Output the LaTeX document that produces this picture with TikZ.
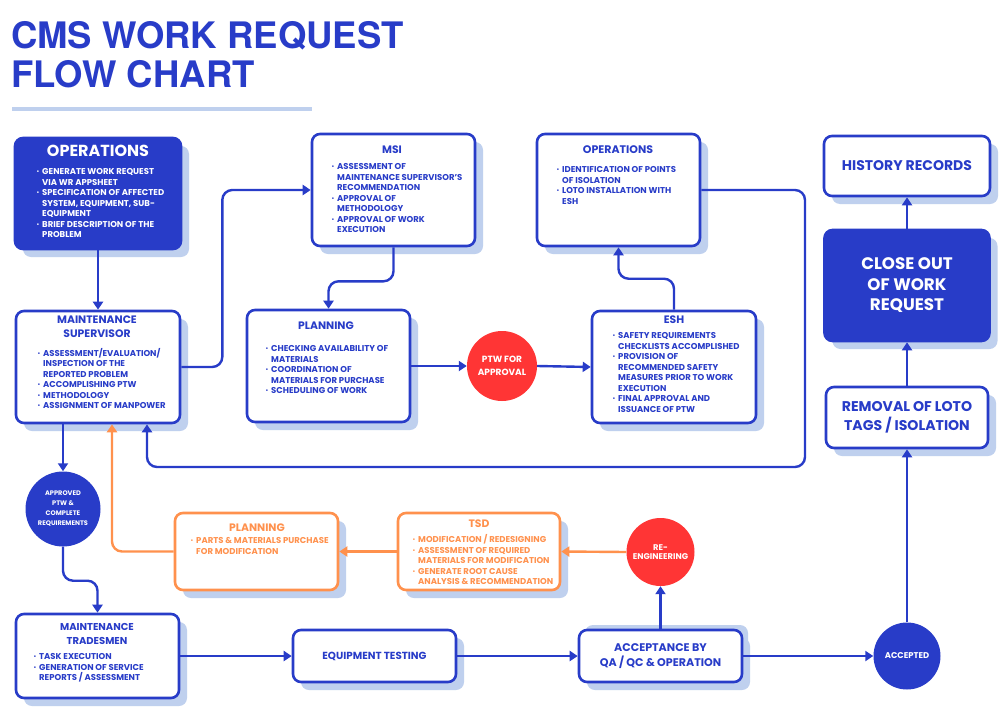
\documentclass[tikz,border=0pt]{standalone}
\usepackage{fontspec}
\setmainfont{Poppins}
\newfontfamily\titlefont{TeX Gyre Heros}
\usetikzlibrary{arrows.meta,shadows}
\definecolor{cblue}{HTML}{283CC8}
\definecolor{cshadow}{HTML}{BFD0EE}
\definecolor{cred}{HTML}{FF3535}
\definecolor{corange}{HTML}{FF914D}
\newcommand\bu{\makebox[5.5pt][l]{\raisebox{0.8pt}{\fontsize{5.5}{5.5}\selectfont\textbullet}}}
\newcommand\ii{\hspace*{5.5pt}}
\newcommand\fs[2]{\fontsize{#1}{#2}\selectfont\bfseries}
\tikzset{
  box/.style={draw=cblue, line width=2.6pt, rounded corners=8pt, fill=white, inner sep=0pt,
    general shadow={fill=cshadow, shadow xshift=8pt, shadow yshift=-8pt}},
  obox/.style={box, draw=corange},
  hd/.style={text=cblue, align=center, inner sep=0pt, font=\fs{10.8}{14}},
  bl/.style={text=cblue, align=left, anchor=north west, inner sep=0pt, font=\fs{8.5}{10.5}},
  circ/.style={circle, inner sep=0pt, text=white, align=center},
  conn/.style={draw=cblue, line width=2.4pt, rounded corners=10pt, -{Triangle[width=10pt,length=8pt]}},
  oconn/.style={conn, draw=corange},
}
\begin{document}
\begin{tikzpicture}[x=1pt,y=-1pt]
\useasboundingbox (0,0) rectangle (1007,715);
\fill[white] (0,0) rectangle (1007,715);

% title
\node[anchor=base west, inner sep=0pt, text=cblue, font=\titlefont\bfseries\fontsize{36.5}{40}\selectfont] (t1) at (11,48) {CMS WORK REQUEST};
\node[anchor=base west, inner sep=0pt, text=cblue, font=\titlefont\bfseries\fontsize{36.5}{40}\selectfont] (t2) at (11,87) {FLOW CHART};
\draw[cshadow, line width=4pt] (12,108.5) -- (312,108.5);

% boxes
\node[box, fill=cblue, minimum width=166pt, minimum height=111pt] (ops1) at (98,193.5) {};
\node[hd, text=white, font=\fs{16}{18}] (ops1h) at (98,151) {OPERATIONS};
\node[bl, text=white] (ops1b) at (36.5,168.5) {\bu GENERATE WORK REQUEST\\ \ii VIA WR APPSHEET\\ \bu SPECIFICATION OF AFFECTED\\ \ii SYSTEM, EQUIPMENT, SUB-\\ \ii EQUIPMENT\\ \bu BRIEF DESCRIPTION OF THE\\ \ii PROBLEM};

\node[box, minimum width=163pt, minimum height=112pt] (msi) at (393.5,190) {};
\node[hd] (msih) at (392,150) {MSI};
\node[bl] (msib) at (331.5,163.5) {\bu ASSESSMENT OF\\ \ii MAINTENANCE SUPERVISOR'S\\ \ii RECOMMENDATION\\ \bu APPROVAL OF\\ \ii METHODOLOGY\\ \bu APPROVAL OF WORK\\ \ii EXECUTION};

\node[box, minimum width=163pt, minimum height=112pt] (ops2) at (618.5,190) {};
\node[hd, font=\fs{11}{14}] (ops2h) at (618,150) {OPERATIONS};
\node[bl] (ops2b) at (556.5,166.5) {\bu IDENTIFICATION OF POINTS\\ \ii OF ISOLATION\\ \bu LOTO INSTALLATION WITH\\ \ii ESH};

\node[box, minimum width=166pt, minimum height=60pt, text=cblue, font=\fs{14}{16}] (hist) at (907,166) {HISTORY RECORDS};
\node[box, fill=cblue, minimum width=165pt, minimum height=111pt, text=white, align=center, font=\fs{16.7}{20.5}] (close) at (907,285.5) {CLOSE OUT\\OF WORK\\REQUEST};
\node[box, minimum width=162pt, minimum height=61pt, text=cblue, align=center, font=\fs{14.1}{19}] (removal) at (907,417.5) {REMOVAL OF LOTO\\TAGS / ISOLATION};

\node[box, minimum width=164pt, minimum height=112pt] (ms) at (98,367) {};
\node[hd] (msh) at (97,327) {MAINTENANCE\\SUPERVISOR};
\node[bl] (msb) at (37.5,348) {\bu ASSESSMENT/EVALUATION/\\ \ii INSPECTION OF THE\\ \ii REPORTED PROBLEM\\ \bu ACCOMPLISHING PTW\\ \bu METHODOLOGY\\ \bu ASSIGNMENT OF MANPOWER};

\node[box, minimum width=163pt, minimum height=112pt] (plan) at (328.5,366) {};
\node[hd] (planh) at (326,326) {PLANNING};
\node[bl] (planb) at (265.5,345.5) {\bu CHECKING AVAILABILITY OF\\ \ii MATERIALS\\ \bu COORDINATION OF\\ \ii MATERIALS FOR PURCHASE\\ \bu SCHEDULING OF WORK};

\node[box, minimum width=164pt, minimum height=112pt] (esh) at (674,367) {};
\node[hd] (eshh) at (674,320) {ESH};
\node[bl] (eshb) at (612.5,332.5) {\bu SAFETY REQUIREMENTS\\ \ii CHECKLISTS ACCOMPLISHED\\ \bu PROVISION OF\\ \ii RECOMMENDED SAFETY\\ \ii MEASURES PRIOR TO WORK\\ \ii EXECUTION\\ \bu FINAL APPROVAL AND\\ \ii ISSUANCE OF PTW};

\node[circ, fill=cred, minimum size=70pt, font=\fs{9}{13}] (ptw) at (502,366) {PTW FOR\\APPROVAL};
\node[circ, fill=cblue, minimum size=75pt, font=\fs{6.6}{10}] (appr) at (63,509) {APPROVED\\PTW \&\\COMPLETE\\REQUIREMENTS};

\node[obox, minimum width=163pt, minimum height=77pt] (oplan) at (256.5,551.5) {};
\node[hd, text=corange] (oplanh) at (257,528) {PLANNING};
\node[bl, text=corange] (oplanb) at (190.5,537.5) {\bu PARTS \& MATERIALS PURCHASE\\ \ii FOR MODIFICATION};

\node[obox, minimum width=162pt, minimum height=77pt] (tsd) at (479,551.5) {};
\node[hd, text=corange] (tsdh) at (479,524) {TSD};
\node[bl, text=corange] (tsdb) at (412.5,534.5) {\bu MODIFICATION / REDESIGNING\\ \bu ASSESSMENT OF REQUIRED\\ \ii MATERIALS FOR MODIFICATION\\ \bu GENERATE ROOT CAUSE\\ \ii ANALYSIS \& RECOMMENDATION};

\node[circ, fill=cred, minimum size=68pt, font=\fs{8.3}{9.5}] (reeng) at (660.5,552) {RE-\\ENGINEERING};

\node[box, minimum width=163pt, minimum height=84pt] (trades) at (97.5,656) {};
\node[hd, font=\fs{10}{14}] (tradesh) at (97,634) {MAINTENANCE\\TRADESMEN};
\node[bl] (tradesb) at (33.5,653.5) {\bu TASK EXECUTION\\ \bu GENERATION OF SERVICE\\ \ii REPORTS / ASSESSMENT};

\node[box, minimum width=163pt, minimum height=52pt, text=cblue, font=\fs{10.3}{14}] (equip) at (374.5,656) {EQUIPMENT TESTING};
\node[box, general shadow={fill=cshadow, shadow xshift=6pt, shadow yshift=5pt}, minimum width=163pt, minimum height=52pt, text=cblue, align=center, font=\fs{11.1}{14.5}] (accept) at (660.5,656) {ACCEPTANCE BY\\QA / QC \& OPERATION};

\node[circ, fill=cblue, minimum size=67pt, font=\fs{8.4}{10}] (accepted) at (907,656) {ACCEPTED};

% connectors
\draw[conn] (ops1.south) -- (ms.north);
\draw[conn] (ms.east) -- ++(41,0) |- (msi.west);
\draw[conn] (msi.south) -- ++(0,34) -| (plan.north);
\draw[conn] (plan.east) -- (ptw.west);
\draw[conn] (ptw.east) -- (esh.west);
\draw[conn] (esh.north) -- ++(0,-31) -| (ops2.south);
\draw[conn] (ops2.east) -| (805,467) -| ([xshift=49pt]ms.south);
\draw[conn] ([xshift=-35pt]ms.south) -- (appr.north);
\draw[conn] (appr.south) -- ++(0,34) -| (trades.north);
\draw[oconn] (oplan.west) -| ([xshift=14pt]ms.south);
\draw[oconn] (tsd.west) -- (oplan.east);
\draw[oconn] (reeng.west) -- (tsd.east);
\draw[conn] (accept.north) -- (reeng.south);
\draw[conn] (trades.east) -- (equip.west);
\draw[conn] (equip.east) -- (accept.west);
\draw[conn] (accept.east) -- (accepted.west);
\draw[conn] (accepted.north) -- (removal.south);
\draw[conn] (removal.north) -- (close.south);
\draw[conn] (close.north) -- (hist.south);
\end{tikzpicture}
\end{document}
